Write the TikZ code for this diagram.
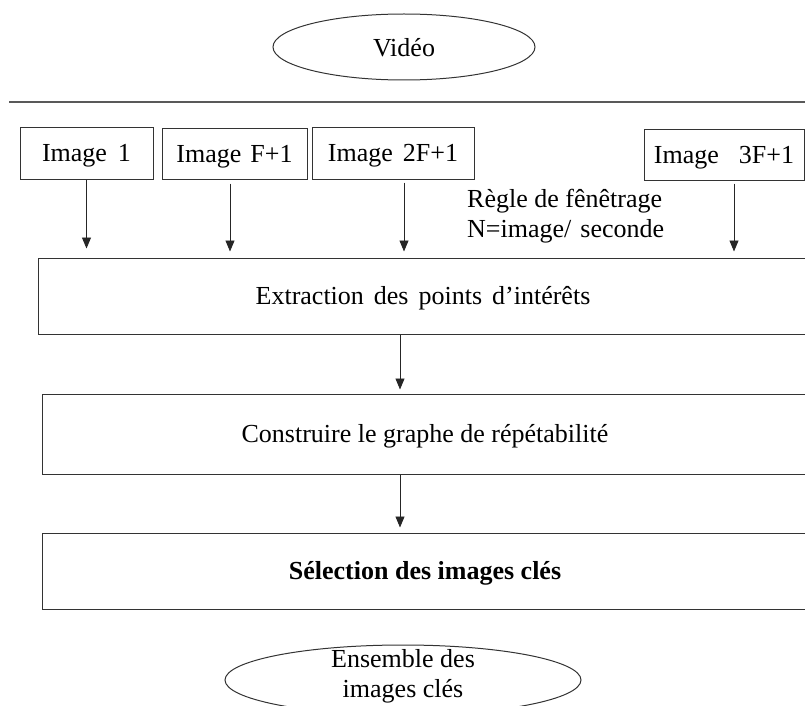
\documentclass[tikz,border=0pt]{standalone}
\usepackage{fontspec}
\setmainfont{Liberation Serif}
\usetikzlibrary{arrows.meta,calc,shapes.geometric}
\begin{document}
\begin{tikzpicture}[x=1pt,y=-1pt,
  every node/.style={font=\fontsize{26}{30}\selectfont},
  box/.style={draw=black!80,line width=1pt,rectangle,inner sep=0pt,text height=20pt,text depth=3pt},
  oval/.style={draw=black!80,line width=1pt,ellipse,inner sep=0pt},
  txt/.style={inner sep=0pt,align=center},
  arr/.style={draw=black!85,line width=0.9pt,-{Triangle[width=9pt,length=11pt]}}]
\useasboundingbox (0,0) rectangle (805,706);
% top ellipse
\node[oval,minimum width=262pt,minimum height=66pt] (video) at (404,47) {};
\node[txt] (videot) at (404,48) {Vidéo};
% separator
\coordinate (hl) at (9,102);
\coordinate (hr) at (805,102);
\draw[black!65,line width=1.5pt] (hl) -- (hr);
% image boxes
\node[box,minimum width=133pt,minimum height=52pt] (i1) at (86.5,153) {Image\hspace{11pt}1};
\node[box,minimum width=145pt,minimum height=51pt] (i2) at (234.5,153.5) {Image\hspace{9pt}F+1};
\node[box,minimum width=162pt,minimum height=52pt] (i3) at (393,153) {Image\hspace{10pt}2F+1};
\node[box,minimum width=160pt,minimum height=51pt] (i4) at (724,154.5) {Image\hspace{20pt}3F+1};
% rule text
\node[txt,align=left,anchor=west] (regle) at (467,216) {Règle de fênêtrage\\N=image/\hspace{9pt}seconde};
% main boxes
\node[box,minimum width=770pt,minimum height=76pt] (ext) at (423,296) {Extraction\hspace{10pt}des\hspace{10pt}points\hspace{10pt}d’intérêts};
\node[box,minimum width=766pt,minimum height=80pt] (con) at (425,434) {Construire le graphe de répétabilité};
\node[box,minimum width=766pt,minimum height=76pt] (sel) at (425,571) {\bfseries Sélection des images clés};
% bottom ellipse
\node[oval,minimum width=356pt,minimum height=70pt] (ens) at (403,680) {};
\node[txt] (enst) at (403,676) {Ensemble des\\images clés};
% arrows
\draw[arr,shorten >=9pt] (i1.south) -- (i1.south |- ext.north);
\draw[arr,shorten <=4pt,shorten >=6pt] ([xshift=-4.5pt]i2.south) -- ([xshift=-4.5pt]i2.south |- ext.north);
\draw[arr,shorten <=3pt,shorten >=6pt] ([xshift=11pt]i3.south) -- ([xshift=11pt]i3.south |- ext.north);
\draw[arr,shorten <=3pt,shorten >=6pt] ([xshift=10pt]i4.south) -- ([xshift=10pt]i4.south |- ext.north);
\draw[arr,shorten >=4pt] ([xshift=-23pt]ext.south) -- ([xshift=-23pt]ext.south |- con.north);
\draw[arr,shorten >=5pt] ([xshift=-25pt]con.south) -- ([xshift=-25pt]con.south |- sel.north);
\end{tikzpicture}
\end{document}
